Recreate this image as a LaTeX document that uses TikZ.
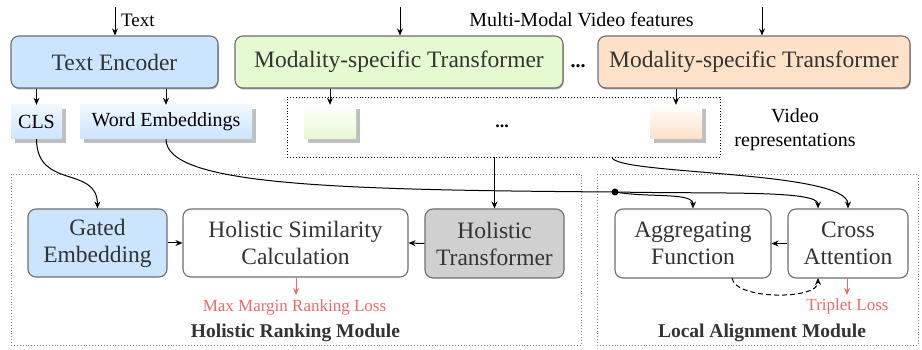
\documentclass[tikz,border=0pt]{standalone}
\usepackage{fontspec}
\setmainfont{Liberation Serif}
\usetikzlibrary{arrows.meta,shadows,calc}
\definecolor{cblue}{HTML}{CCE5FF}
\definecolor{cgreen}{HTML}{E6FAD2}
\definecolor{corange}{HTML}{FDE1C8}
\definecolor{cgray}{HTML}{D0D0D0}
\definecolor{cborder}{HTML}{6E6E6E}
\definecolor{ctext}{HTML}{333333}
\definecolor{cred}{HTML}{EE6A6A}
\tikzset{
  box/.style={draw=cborder, line width=1.1pt, rounded corners=8pt, text=ctext,
    font=\fontsize{23.5}{27}\selectfont, align=center, inner sep=0pt},
  topshadow/.style={drop shadow={shadow xshift=0.8pt, shadow yshift=-1.5pt, fill=gray!70, opacity=1}},
  rep/.style={inner sep=0pt, font=\fontsize{20}{24}\selectfont,
    drop shadow={shadow xshift=4pt, shadow yshift=-4pt, fill=gray!50, opacity=1}},
  arr/.style={-{Stealth[length=7pt,width=6pt]}, line width=1pt},
  redarr/.style={-{Stealth[length=7pt,width=6pt]}, line width=1pt, draw=cred},
  modbox/.style={draw=gray, dotted, line width=0.9pt},
  lbl/.style={inner sep=0pt, font=\fontsize{20}{24}\selectfont},
  redlbl/.style={inner sep=0pt, text=cred, font=\fontsize{17}{20}\selectfont},
  modlbl/.style={inner sep=0pt, text=ctext, font=\fontsize{19.5}{22}\selectfont\bfseries},
}
\begin{document}
\begin{tikzpicture}[x=1pt,y=-1pt]
\useasboundingbox (0,0) rectangle (922,350);
% module boxes
\draw[modbox] (11,174) rectangle (581,345);
\draw[modbox] (597,174) rectangle (918,345);
% top row
\node[box, topshadow, fill=cblue, minimum width=207pt, minimum height=52pt] (te) at (114.5,62) {Text Encoder};
\node[box, topshadow, fill=cgreen, minimum width=328pt, minimum height=52pt] (mg) at (399,62) {Modality-specific Transformer};
\node[box, topshadow, fill=corange, minimum width=312pt, minimum height=52pt] (mo) at (754,62) {Modality-specific Transformer};
\node[inner sep=0pt, font=\fontsize{20}{24}\selectfont\bfseries] (dots1) at (578,66) {...};
\coordinate (tin) at (115,7);
\coordinate (gin) at (400,7);
\coordinate (oin) at (762,7);
\draw[arr] (tin) -- (tin |- te.north);
\draw[arr] (gin) -- (gin |- mg.north);
\draw[arr] (oin) -- (oin |- mo.north);
\node[lbl, anchor=west, font=\fontsize{19}{22}\selectfont] (txt) at (121,20) {Text};
\node[lbl] (mmv) at (581.5,20) {Multi-Modal Video features};
% representations
\node[rep, shade, top color=cblue!30!white, middle color=cblue, bottom color=cblue,
  minimum width=51pt, minimum height=34pt] (cls) at (36.5,122) {CLS};
\node[rep, shade, top color=cblue!30!white, middle color=cblue, bottom color=cblue,
  minimum width=172pt, minimum height=34pt] (we) at (166,122) {Word Embeddings};
\node[draw, dotted, line width=0.9pt, minimum width=433pt, minimum height=60pt, inner sep=0pt] (vr) at (503.5,127) {};
\node[rep, shade, top color=white, middle color=cgreen, bottom color=cgreen,
  minimum width=52pt, minimum height=34pt] (grep) at (330,122) {};
\node[rep, shade, top color=white, middle color=corange, bottom color=corange,
  minimum width=52pt, minimum height=34pt] (orep) at (676,122) {};
\node[inner sep=0pt, font=\fontsize{18}{22}\selectfont\bfseries] (dots2) at (502,126) {...};
\node[lbl, align=center] (vrl) at (795,130) {Video\\representations};
\draw[arr] (te.south -| cls) -- (cls.north);
\draw[arr] (te.south -| we) -- (we.north);
\draw[arr] (mg.south -| grep) -- (grep.north);
\draw[arr] (mo.south -| orep) -- (orep.north);
% bottom row
\node[box, fill=cblue, minimum width=139pt, minimum height=68pt] (ge) at (97.5,243) {Gated\\Embedding};
\node[box, fill=white, minimum width=225pt, minimum height=68pt] (hs) at (295.5,243) {Holistic Similarity\\Calculation};
\node[box, fill=cgray, minimum width=139pt, minimum height=69pt] (ht) at (494.5,243.5) {Holistic\\Transformer};
\node[box, fill=white, minimum width=156pt, minimum height=69pt] (ag) at (693,243.5) {Aggregating\\Function};
\node[box, fill=white, minimum width=120pt, minimum height=69pt] (ca) at (848,243.5) {Cross\\Attention};
\draw[arr] (ge.east) -- (hs.west);
\draw[arr] (ht.west) -- (hs.east);
\draw[arr] (ca.west) -- (ag.east);
\draw[arr] (vr.south -| ht.north) -- (ht.north);
% curves
\draw[arr] (cls.south) .. controls (37,190) and (97,165) .. (ge.north);
\coordinate (jn) at (615,192);
\draw[line width=1pt] (we.south) .. controls (166,185) and (330,190) .. (jn);
\fill (jn) circle (3.5pt);
\coordinate (agin) at (ag.north);
\coordinate (cain) at ($(ca.north)+(-30,0)$);
\draw[arr] (jn) .. controls (650,198) and (693,192) .. (agin);
\draw[arr] (jn) .. controls (720,194) and (818,190) .. (cain);
\coordinate (vrout) at (612,157);
\draw[arr] (vrout) .. controls (612,175) and (848,170) .. (ca.north);
\coordinate (agout) at (732,278);
\coordinate (cabot) at (818,278);
\draw[arr, dashed, dash pattern=on 5pt off 3pt] (agout) .. controls (735,300) and (818,300) .. (cabot);
% losses
\coordinate (hsl) at (296,278);
\coordinate (cal) at (847,278);
\draw[redarr] (hsl) -- ++(0,17);
\draw[redarr] (cal) -- ++(0,17);
\node[redlbl, anchor=base] (mm) at (294.5,311.5) {Max Margin Ranking Loss};
\node[redlbl, anchor=base] (tl) at (847.5,310) {Triplet Loss};
\node[modlbl, anchor=base] (hrm) at (295.5,337) {Holistic Ranking Module};
\node[modlbl, anchor=base] (lam) at (762,337.5) {Local Alignment Module};
\end{tikzpicture}
\end{document}
